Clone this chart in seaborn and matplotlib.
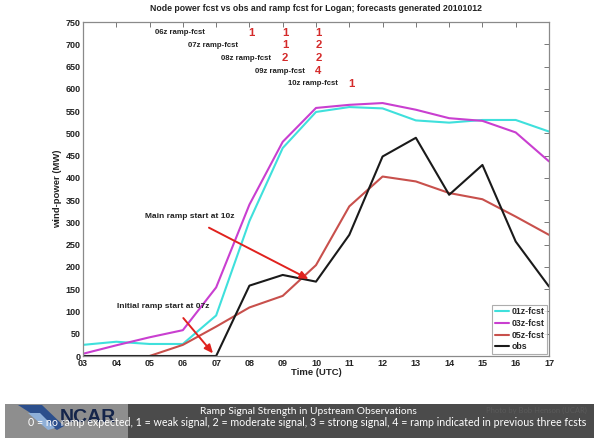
import numpy as np
import pandas as pd
import matplotlib
matplotlib.use("Agg")
import matplotlib.pyplot as plt
import seaborn as sns
from matplotlib.patches import Rectangle, Polygon

# ---------------- data ----------------
hours = [3, 4, 5, 6, 7, 8, 9, 10, 11, 12, 13, 14, 15, 16, 17]
hour_labels = ["03", "04", "05", "06", "07", "08", "09", "10", "11", "12", "13", "14", "15", "16", "17"]
fcst01 = [25, 32, 27, 27, 91, 303, 467, 548, 559, 556, 529, 524, 530, 530, 504]
fcst03 = [5, 24, 42, 58, 154, 340, 481, 557, 564, 568, 553, 534, 528, 502, 437]
fcst05 = [np.nan, np.nan, 0, 25, 66, 109, 135, 204, 336, 403, 392, 366, 352, 313, 272]
obs = [0, 0, 0, 0, 0, 158, 182, 167, 272, 448, 490, 362, 429, 257, 156]
series_names = ["01z-fcst", "03z-fcst", "05z-fcst", "obs"]
y_ticks = [0, 50, 100, 150, 200, 250, 300, 350, 400, 450, 500, 550, 600, 650, 700, 750]

ramp_labels = ["06z ramp-fcst", "07z ramp-fcst", "08z ramp-fcst", "09z ramp-fcst", "10z ramp-fcst"]
ramp_issue = [6, 7, 8, 9, 10]
ramp_hours = [[8, 9, 10], [9, 10], [9, 10], [10], [11]]
ramp_values = [[1, 1, 1], [1, 2], [2, 2], [4], [1]]

title = "Node power fcst vs obs and ramp fcst for Logan; forecasts generated 20101012"
banner_title = "Ramp Signal Strength in Upstream Observations"
banner_text = ("0 = no ramp expected, 1 = weak signal, 2 = moderate signal, "
               "3 = strong signal, 4 = ramp indicated in previous three fcsts")

# ---------------- frame ----------------
df = pd.DataFrame({"hour": hours, "01z-fcst": fcst01, "03z-fcst": fcst03,
                   "05z-fcst": fcst05, "obs": obs})
long = df.melt(id_vars="hour", var_name="series", value_name="power").dropna()

palette = {"01z-fcst": "#3fe0dc", "03z-fcst": "#c93fd0", "05z-fcst": "#c8504c", "obs": "#1a1a1a"}

sns.set_style("white")
plt.rcParams["font.family"] = ["Liberation Sans", "DejaVu Sans"]

fig = plt.figure(figsize=(6.0, 4.38), dpi=100)
ax = fig.add_axes([83 / 600, 1 - 356 / 438, (549 - 83) / 600, (356 - 22) / 438])

sns.lineplot(data=long, x="hour", y="power", hue="series", hue_order=series_names,
             palette=palette, linewidth=1.5, estimator=None, sort=False, ax=ax)

ax.set_xlim(3, 17)
ax.set_ylim(0, 750)
ax.set_xticks(hours)
ax.set_xticklabels(hour_labels)
ax.set_yticks(y_ticks)
ax.tick_params(direction="in", length=3.5, width=0.7, colors="#777777",
               labelcolor="#222222", labelsize=6.5, pad=1.5, top=True, right=True)
ax.tick_params(axis="x", pad=2.5)
for lab in ax.get_xticklabels() + ax.get_yticklabels():
    lab.set_fontweight("bold")
for sp in ax.spines.values():
    sp.set_color("#8a8a8a")
    sp.set_linewidth(0.9)

ax.set_xlabel("Time (UTC)", fontsize=6.8, fontweight="bold", color="#222222", labelpad=0)
ax.set_ylabel("wind-power (MW)", fontsize=6.8, fontweight="bold", color="#222222", labelpad=3)
ax.set_title(title, fontsize=6.3, fontweight="bold", color="#222222", pad=8)

sns.move_legend(ax, "lower right", title=None, frameon=True, fancybox=False,
                prop={"weight": "bold", "size": 6.3}, handlelength=1.6,
                handletextpad=0.3, borderpad=0.3, labelspacing=0.3,
                borderaxespad=0.25, edgecolor="#999999")
ax.get_legend().get_frame().set_linewidth(0.8)

# ramp forecast table inside the plot
for i, (lab, iss, hrs, vals) in enumerate(zip(ramp_labels, ramp_issue, ramp_hours, ramp_values)):
    yv = 726 - 28.7 * i
    ax.text(iss + 0.66, yv, lab, ha="right", va="center", fontsize=5.6,
            fontweight="bold", color="#222222")
    for h, v in zip(hrs, vals):
        ax.text(h + 0.07, yv, str(v), ha="center", va="center", fontsize=8.2,
                fontweight="bold", color="#d42a2a")

# annotations
ax.annotate("", xy=(9.85, 170), xytext=(6.71, 291),
            arrowprops=dict(arrowstyle="-|>,head_length=0.5,head_width=0.22",
                            color="#e0221e", lw=1.4))
ax.text(6.22, 313, "Main ramp start at 10z", ha="center", va="center",
        fontsize=6.0, fontweight="bold", color="#222222")
ax.annotate("", xy=(6.96, 1), xytext=(5.96, 90),
            arrowprops=dict(arrowstyle="-|>,head_length=0.5,head_width=0.22",
                            color="#e0221e", lw=1.4))
ax.text(5.4, 112, "Initial ramp start at 07z", ha="center", va="center",
        fontsize=6.0, fontweight="bold", color="#222222")

# ---------------- bottom banner ----------------
H = 438.0
W = 600.0
def fx(x):
    return x / W
def fy(y):
    return 1 - y / H

fig.patches.append(Rectangle((fx(5), 0), fx(594) - fx(5), fy(404), transform=fig.transFigure,
                             facecolor="#4b4b4b", edgecolor="none", zorder=0))
fig.patches.append(Rectangle((fx(5), 0), fx(128) - fx(5), fy(404), transform=fig.transFigure,
                             facecolor="#8e8e8e", edgecolor="none", zorder=0))
# logo swoosh
fig.patches.append(Polygon([(fx(18), fy(405)), (fx(42), fy(405)), (fx(64), fy(426)), (fx(57), fy(430))],
                           closed=True, transform=fig.transFigure, facecolor="#2c4f8c",
                           edgecolor="none", zorder=1))
fig.patches.append(Polygon([(fx(28), fy(413)), (fx(40), fy(413)), (fx(55), fy(428)), (fx(48), fy(430))],
                           closed=True, transform=fig.transFigure, facecolor="#8fb0d8",
                           edgecolor="none", zorder=1))
fig.text(fx(88), fy(418), "NCAR", ha="center", va="center", fontsize=14, fontweight="bold",
         color="#15254a", family=["Liberation Sans", "DejaVu Sans"])
fig.text(fx(308), fy(411), banner_title, ha="center", va="center", fontsize=7.4,
         color="white", family=["Lato", "DejaVu Sans"])
fig.text(fx(307), fy(422), banner_text, ha="center", va="center", fontsize=7.7,
         color="white", family=["Lato", "DejaVu Sans"])
fig.text(fx(536), fy(410), "Photo by Bob Henson (UCAR)", ha="center", va="center", fontsize=5.5,
         color="#5a5a5a", family=["Lato", "DejaVu Sans"])

fig.savefig("out.png", dpi=100, facecolor="white")
